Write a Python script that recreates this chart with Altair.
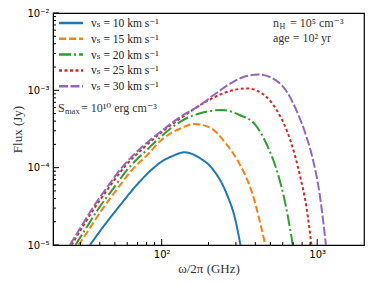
import altair as alt
import pandas as pd
import math

# ---- data ----
series = ["vₛ = 10 km s⁻¹", "vₛ = 15 km s⁻¹", "vₛ = 20 km s⁻¹", "vₛ = 25 km s⁻¹", "vₛ = 30 km s⁻¹"]
colors = ["#1f77b4", "#ff7f0e", "#2ca02c", "#d62728", "#9467bd"]
dashes = [[1, 0], [7, 3], [12, 3, 2, 3], [3, 2.5], [9, 2.5]]

f10 = [34.6, 39.8, 53.3, 70.8, 86.7, 100, 117, 140, 177, 214, 259, 299, 321]
s10 = [1.0e-5, 1.48e-5, 3.16e-5, 6.31e-5, 9.55e-5, 1.20e-4, 1.41e-4, 1.58e-4, 1.32e-4, 9.44e-5, 4.82e-5, 2.04e-5, 1.0e-5]

f15 = [29.2, 34.3, 40.7, 50.7, 63.1, 81.3, 100, 133, 161, 205, 259, 314, 380, 464]
s15 = [1.0e-5, 1.62e-5, 2.75e-5, 5.01e-5, 8.91e-5, 1.48e-4, 2.29e-4, 3.24e-4, 3.68e-4, 3.29e-4, 2.04e-4, 1.15e-4, 4.83e-5, 1.0e-5]

f20 = [27.9, 32.7, 38.9, 48.4, 61.0, 79.4, 100, 133, 177, 247, 314, 398, 482, 556, 627, 697]
s20 = [1.0e-5, 1.66e-5, 2.88e-5, 5.25e-5, 9.77e-5, 1.66e-4, 2.57e-4, 3.98e-4, 5.06e-4, 5.57e-4, 4.83e-4, 3.62e-4, 1.85e-4, 8.59e-5, 3.28e-5, 1.0e-5]

f25 = [26.3, 30.9, 36.7, 45.7, 57.5, 75.9, 100, 133, 195, 259, 353, 460, 556, 673, 776, 855, 918]
s25 = [1.0e-5, 1.70e-5, 2.95e-5, 5.50e-5, 1.02e-4, 1.78e-4, 2.88e-4, 4.39e-4, 7.23e-4, 9.44e-4, 1.06e-3, 8.57e-4, 5.31e-4, 2.24e-4, 7.80e-5, 2.99e-5, 1.0e-5]

f30 = [25.7, 30.2, 35.9, 44.7, 56.5, 74.1, 100, 133, 177, 214, 272, 346, 418, 531, 641, 741, 855, 940, 1033, 1138]
s30 = [1.0e-5, 1.70e-5, 2.99e-5, 5.62e-5, 1.05e-4, 1.82e-4, 2.99e-4, 4.59e-4, 6.44e-4, 8.57e-4, 1.20e-3, 1.52e-3, 1.60e-3, 1.39e-3, 9.44e-4, 5.31e-4, 2.47e-4, 1.26e-4, 4.82e-5, 1.0e-5]

x_major = [100, 1000]
x_major_labels = ["10²", "10³"]
x_minor = [30, 40, 50, 60, 70, 80, 90, 200, 300, 400, 500, 600, 700, 800, 900]
y_major = [1e-5, 1e-4, 1e-3, 1e-2]
y_major_labels = ["10⁻⁵", "10⁻⁴", "10⁻³", "10⁻²"]
y_minor = [m * 10.0 ** e for e in (-5, -4, -3) for m in range(2, 10)]

W, H = 311, 232
SERIF = "Liberation Serif, DejaVu Serif, serif"
SANS = "DejaVu Sans"

rows = []
for name, fs, ss in zip(series, [f10, f15, f20, f25, f30], [s10, s15, s20, s25, s30]):
    for f, s in zip(fs, ss):
        rows.append({"freq": f, "flux": s, "series": name})
df = pd.DataFrame(rows)

xscale = alt.Scale(type="log", domain=[20, 2000], nice=False)
yscale = alt.Scale(type="log", domain=[1e-5, 1e-2], nice=False)


def label_expr(values, labels):
    parts = []
    for v, l in zip(values, labels):
        parts.append(f"abs(log(datum.value)/LN10 - ({math.log10(v):.3f})) < 0.01 ? '{l}'")
    return " : ".join(parts) + " : ''"


xaxis = alt.Axis(values=x_major, labelExpr=label_expr(x_major, x_major_labels), ticks=False,
                 title="ω/2π (GHz)", titleFont=SERIF, titleFontSize=13, titleFontWeight="normal",
                 titlePadding=3, labelFont=SANS, labelFontSize=10, labelPadding=4,
                 grid=False, domainColor="black", labelColor="black", titleColor="#333")
yaxis = alt.Axis(values=y_major, labelExpr=label_expr(y_major, y_major_labels), ticks=False,
                 title="Flux (Jy)", titleFont=SERIF, titleFontSize=13, titleFontWeight="normal",
                 titlePadding=2, labelFont=SANS, labelFontSize=10, labelPadding=4,
                 grid=False, domainColor="black", labelColor="black", titleColor="#333")

lines = alt.Chart(df).mark_line(strokeWidth=2, interpolate="monotone", clip=True).encode(
    x=alt.X("freq:Q", scale=xscale, axis=xaxis),
    y=alt.Y("flux:Q", scale=yscale, axis=yaxis),
    color=alt.Color("series:N", scale=alt.Scale(domain=series, range=colors), legend=None),
    strokeDash=alt.StrokeDash("series:N", scale=alt.Scale(domain=series, range=dashes), legend=None),
    order=alt.Order("freq:Q"),
)

def xticks(vals, ln):
    return alt.Chart(pd.DataFrame({"freq": vals})).mark_rule(color="black", strokeWidth=1).encode(
        x=alt.X("freq:Q", scale=xscale, axis=xaxis), y=alt.value(H), y2=alt.value(H - ln))

def yticks(vals, ln):
    return alt.Chart(pd.DataFrame({"flux": vals})).mark_rule(color="black", strokeWidth=1).encode(
        y=alt.Y("flux:Q", scale=yscale, axis=yaxis), x=alt.value(0), x2=alt.value(ln))

def txt(s, x, y, size=12, dy=0, color="#333"):
    return alt.Chart(pd.DataFrame({"t": [s]})).mark_text(
        font=SERIF, fontSize=size, align="left", baseline="alphabetic", color=color, dy=dy
    ).encode(text="t:N", x=alt.value(x), y=alt.value(y))

# manual legend (top-left, inside the frame)
legend_layers = []
for i, (name, c, d) in enumerate(zip(series, colors, dashes)):
    ry = 10 + i * 15.8
    legend_layers.append(
        alt.Chart(pd.DataFrame({"s": [name]})).mark_rule(strokeWidth=2.5, color=c, strokeDash=d).encode(
            x=alt.value(6), x2=alt.value(30), y=alt.value(ry))
    )
    legend_layers.append(txt(name, 38, ry + 4, size=11.5, color="#222"))

annot = [
    txt("S", 5, 99), txt("max", 12, 99, size=8.5, dy=2), txt("= 10¹⁰ erg cm⁻³", 28, 99),
    txt("n", 220, 14), txt("H", 226.5, 14, size=8, dy=1.5), txt("= 10⁵ cm⁻³", 237, 14),
    txt("age = 10² yr", 220, 28.5),
]

chart = alt.layer(lines, xticks(x_major, 6), xticks(x_minor, 3), yticks(y_major, 6), yticks(y_minor, 3),
                  *legend_layers, *annot).properties(
    width=W, height=H,
    padding={"left": 45, "top": 5, "right": 2, "bottom": 31},
    autosize=alt.AutoSizeParams(type="none"),
    background="white",
).configure_view(stroke="black", strokeWidth=1.2)

chart.save("out.html", embed_options={"renderer": "svg", "actions": False})
